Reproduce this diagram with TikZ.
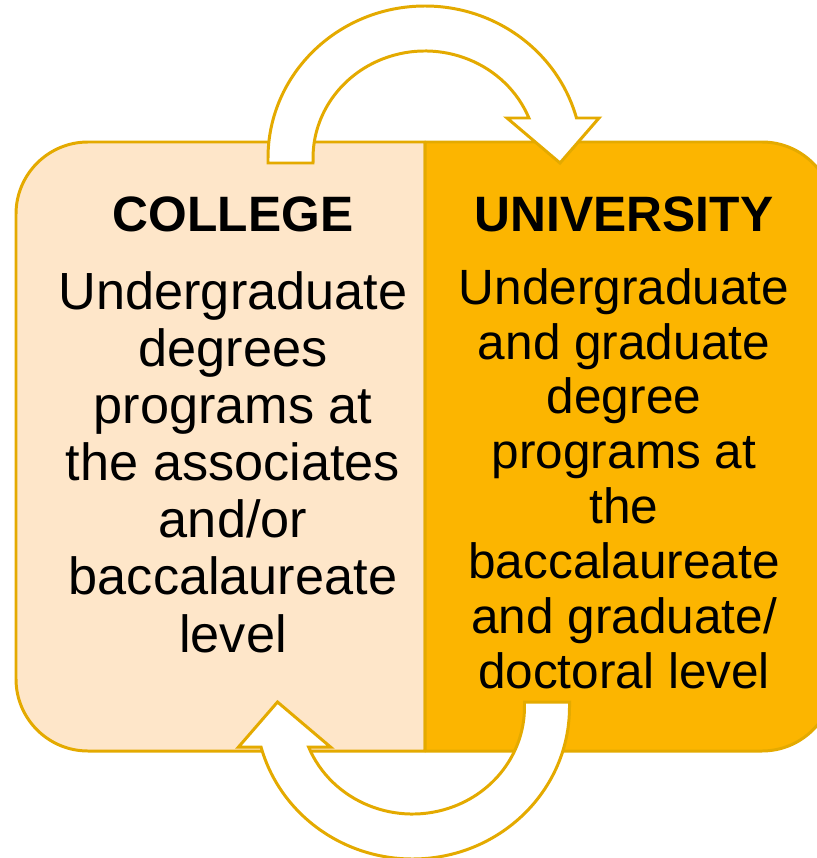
\documentclass[tikz,border=0pt]{standalone}
\usepackage{fontspec}
\setmainfont{Liberation Sans}
\definecolor{leftfill}{RGB}{254,230,201}
\definecolor{rightfill}{RGB}{252,181,0}
\definecolor{goldline}{RGB}{228,170,0}
\tikzset{
  boxline/.style={draw=goldline, line width=1.7pt, line join=round},
  arrowshape/.style={draw=goldline, fill=white, line width=1.7pt, line join=miter},
  titletext/.style={anchor=base, inner sep=0pt, font=\fontsize{28.3}{31}\selectfont\bfseries},
  bodyleft/.style={anchor=base, inner sep=0pt, align=center, font=\fontsize{29.75}{32.5}\selectfont},
  bodyright/.style={anchor=base, inner sep=0pt, align=center, font=\fontsize{28.2}{31.2}\selectfont}
}
\begin{document}
\begin{tikzpicture}[x=0.02cm, y=-0.02cm]
\useasboundingbox (0,0) rectangle (817,858);
\clip (0,0) rectangle (817,858);
% left box
\path[boxline, fill=leftfill] (425,142) -- (88,142) arc[start angle=270, end angle=180, radius=72]
  -- (16,679) arc[start angle=180, end angle=90, radius=72] -- (425,751) -- cycle;
% right box
\path[boxline, fill=rightfill] (425,142) -- (762,142) arc[start angle=270, end angle=360, radius=72]
  -- (834,679) arc[start angle=0, end angle=90, radius=72] -- (425,751) -- cycle;
% top curved arrow
\path[arrowshape] (268,163) -- (268,158)
  arc[start angle=180, end angle=344.74, x radius=157, y radius=152]
  -- (599,118) -- (560,163) -- (507,118) -- (528.9,118)
  arc[start angle=338.05, end angle=180, x radius=112, y radius=107]
  -- (313,163) -- cycle;
% bottom curved arrow (same shape turned half a turn)
\begin{scope}[rotate around={180:(418.75,432.5)}]
\path[arrowshape] (268,163) -- (268,158)
  arc[start angle=180, end angle=344.74, x radius=157, y radius=152]
  -- (599,118) -- (560,163) -- (507,118) -- (528.9,118)
  arc[start angle=338.05, end angle=180, x radius=112, y radius=107]
  -- (313,163) -- cycle;
\end{scope}
% texts (multi-line nodes: base anchor sits on the last line)
\node[titletext] (ctitle) at (233,232) {COLLEGE};
\node[bodyleft] (cbody) at (233,652) {Undergraduate\\degrees\\programs at\\the associates\\and/or\\baccalaureate\\level};
\node[titletext] (utitle) at (624,232) {UNIVERSITY};
\node[bodyright] (ubody) at (624,688) {Undergraduate\\and graduate\\degree\\programs at\\the\\baccalaureate\\and graduate/\\doctoral level};
\end{tikzpicture}
\end{document}
